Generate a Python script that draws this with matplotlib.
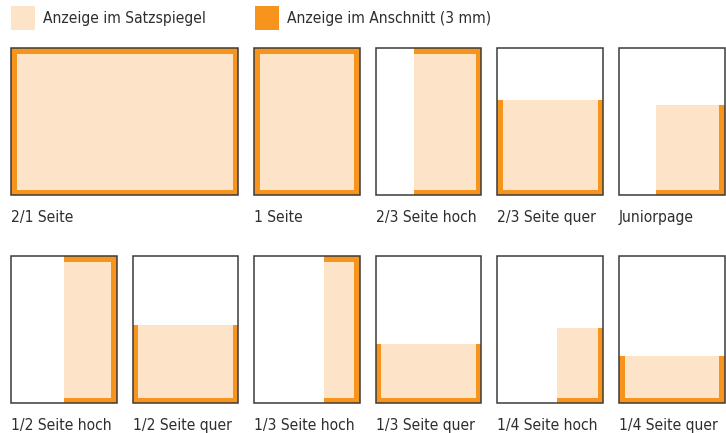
import matplotlib.pyplot as plt
from matplotlib.patches import Rectangle
from matplotlib import font_manager

# ad formats: label, grid row, grid column, column span, ad width / height as fraction of page
formats = ["2/1 Seite", "1 Seite", "2/3 Seite hoch", "2/3 Seite quer", "Juniorpage",
           "1/2 Seite hoch", "1/2 Seite quer", "1/3 Seite hoch", "1/3 Seite quer",
           "1/4 Seite hoch", "1/4 Seite quer"]
rows = [0, 0, 0, 0, 0, 1, 1, 1, 1, 1, 1]
cols = [0, 2, 3, 4, 5, 0, 1, 2, 3, 4, 5]
spans = [2, 1, 1, 1, 1, 1, 1, 1, 1, 1, 1]
ad_width = [1.0, 1.0, 0.64, 1.0, 0.65, 0.5, 1.0, 0.34, 1.0, 0.44, 1.0]
ad_height = [1.0, 1.0, 1.0, 0.645, 0.61, 1.0, 0.53, 1.0, 0.40, 0.51, 0.32]

legend_labels = ["Anzeige im Satzspiegel", "Anzeige im Anschnitt (3 mm)"]

LIGHT = "#fde4c9"
ORANGE = "#f7941d"
EDGE = "#3a3a3a"
TEXT = "#2e2e2e"


def pick_font():
    # rank narrow faces: true condensed first, semi-condensed next, else Roboto
    best, best_rank = None, 9
    for f in font_manager.fontManager.ttflist:
        if f.style != "normal" or f.weight not in ("normal", 400, "regular", "book"):
            continue
        n = f.name + " " + str(f.stretch)
        if "Extra" in n or "Ultra" in n:
            continue
        if "Semi" in n or f.stretch == "semi-condensed":
            rank = 2
        elif "Condensed" in n or "Narrow" in n or f.stretch == "condensed":
            rank = 1
        else:
            continue
        if rank < best_rank:
            best, best_rank = f.fname, rank
    if best is None:
        return font_manager.FontProperties(family=["Roboto", "DejaVu Sans"])
    return font_manager.FontProperties(fname=best)


fp = pick_font()

# layout in pixel units
left, pitch = 11, 121.6
page_w, page_h = 105.6, 147.3
row_top = [48, 256]
bleed = 5.5

fig = plt.figure(figsize=(7.26, 4.33), dpi=100)
ax = fig.add_axes([0, 0, 1, 1])
ax.set_xlim(0, 726)
ax.set_ylim(433, 0)
ax.axis("off")

# size the font so that "2/3 Seite hoch" comes out roughly as wide as in the reference
probe = ax.text(0, 0, formats[2], fontproperties=fp, fontsize=10)
renderer = fig.canvas.get_renderer()
pw = probe.get_window_extent(renderer).width
probe.remove()
size = min(13.5, 10 * 101 / pw)
fp.set_size(size)

for name, r, c, s, fw, fh in zip(formats, rows, cols, spans, ad_width, ad_height):
    x0 = left + c * pitch
    w = page_w + (s - 1) * pitch
    y0 = row_top[r]
    x1, y1 = x0 + w, y0 + page_h

    # ad area anchored at bottom-right corner of the page
    aw, ah = w * fw, page_h * fh
    ax0, ay0 = x1 - aw, y1 - ah
    ax.add_patch(Rectangle((ax0, ay0), aw, ah, facecolor=ORANGE, edgecolor="none", zorder=1))

    # type area: inset by the bleed on edges that touch the page border
    il = ax0 + (bleed if fw >= 1 else 0)
    it = ay0 + (bleed if fh >= 1 else 0)
    ax.add_patch(Rectangle((il, it), (x1 - bleed) - il, (y1 - bleed) - it,
                           facecolor=LIGHT, edgecolor="none", zorder=2))

    ax.add_patch(Rectangle((x0, y0), w, page_h, facecolor="none", edgecolor=EDGE,
                           linewidth=1.1, zorder=3))
    ax.text(x0, y1 + 22, name, ha="left", va="center", color=TEXT, fontproperties=fp)

# legend
for i, (lab, col) in enumerate(zip(legend_labels, [LIGHT, ORANGE])):
    lx = 11 + i * 244
    ax.add_patch(Rectangle((lx, 6), 24, 24, facecolor=col, edgecolor="none"))
    ax.text(lx + 32, 18, lab, ha="left", va="center", color=TEXT, fontproperties=fp)

fig.savefig("out.png", dpi=100)
